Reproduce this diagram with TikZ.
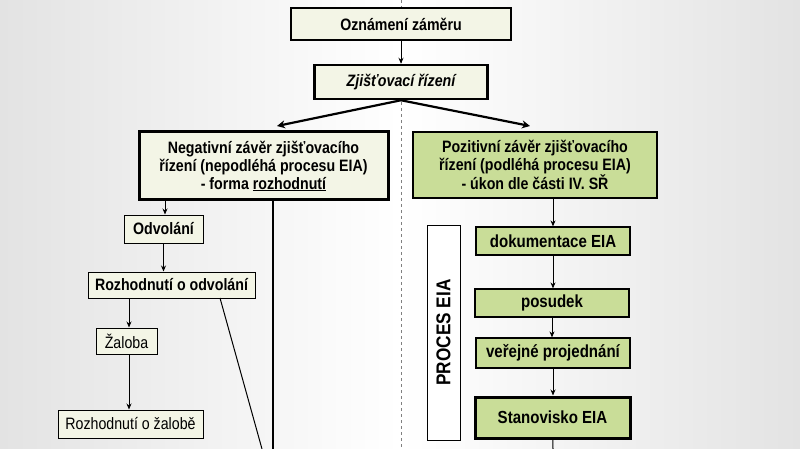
\documentclass[tikz,border=0pt]{standalone}
\usepackage{fontspec}
\setmainfont{Liberation Sans}[FakeStretch=0.86]
\usetikzlibrary{arrows.meta}
\definecolor{cream}{HTML}{F3F5E6}
\definecolor{eiagreen}{HTML}{C9DD98}
\tikzset{
  box/.style={draw=black,fill=cream,line width=#1,align=center,inner sep=0pt,font=\bfseries\fontsize{16.5}{18}\selectfont},
  box/.default=1pt,
  gbox/.style={box=#1,fill=eiagreen},
  gbox/.default=1.2pt,
  arr/.style={-{Stealth[length=6pt,width=5pt]},line width=0.9pt},
  tarr/.style={-{Stealth[length=8pt,width=8pt]},line width=2.2pt},
}
\begin{document}
\begin{tikzpicture}[x=1pt,y=-1pt]
\shade[left color=gray!22,right color=gray!22,middle color=white] (0,0) rectangle (800,449);
\useasboundingbox (0,0) rectangle (800,449);
\draw[gray,dashed,line width=0.4pt] (401,0) -- (401,449);
\node[box=2.5pt,minimum width=220pt,minimum height=32pt] (ozn) at (401,24) {Oznámení záměru};
\node[box=2.5pt,minimum width=173pt,minimum height=34pt] (zji) at (401,82) {\itshape Zjišťovací řízení};
\node[box=3pt,minimum width=249pt,minimum height=68pt] (neg) at (263.5,166) {Negativní závěr zjišťovacího\\řízení (nepodléhá procesu EIA)\\- forma \underline{rozhodnutí}};
\node[gbox=1.2pt,minimum width=244pt,minimum height=66pt] (poz) at (535,165) {Pozitivní závěr zjišťovacího\\řízení (podléhá procesu EIA)\\- úkon dle části IV. SŘ};
\node[box,minimum width=79pt,minimum height=28pt] (odv) at (163.5,229) {Odvolání};
\node[box,minimum width=167pt,minimum height=26pt] (rodv) at (171.5,285) {Rozhodnutí o odvolání};
\node[box,minimum width=61pt,minimum height=26pt,font=\fontsize{16.5}{18}\selectfont] (zal) at (126.5,341) {Žaloba};
\node[box,minimum width=145pt,minimum height=28pt,font=\fontsize{16.5}{18}\selectfont] (rzal) at (130.5,424) {Rozhodnutí o žalobě};
\node[gbox,minimum width=154pt,minimum height=28pt,font=\bfseries\fontsize{17.5}{19}\selectfont] (dok) at (553,241) {dokumentace EIA};
\node[gbox,minimum width=154pt,minimum height=28pt,font=\bfseries\fontsize{17.5}{19}\selectfont] (pos) at (552,303) {posudek};
\node[gbox,minimum width=154pt,minimum height=30pt,font=\bfseries\fontsize{17.5}{19}\selectfont] (ver) at (553,353) {veřejné projednání};
\node[gbox=3pt,minimum width=155pt,minimum height=41pt,font=\bfseries\fontsize{17.5}{19}\selectfont] (sta) at (552.5,417.5) {Stanovisko EIA};
\node[draw,fill=white,line width=1pt,minimum width=33pt,minimum height=215pt,inner sep=0pt] (proc) at (443.5,332.5) {};
\node[rotate=90,font=\bfseries\fontsize{20}{22}\selectfont] at (proc) {PROCES EIA};
\coordinate (negend) at (273,449);
\coordinate (rodvend) at (262,449);
\coordinate (staend) at (553,449);
\draw[arr] (ozn) -- (zji);
\draw[tarr] (zji.south) -- (277,126);
\draw[tarr] (zji.south) -- (530,126);
\draw[arr] (165,200) -- (odv.north -| 165,0);
\draw[arr] (odv) -- (odv |- rodv.north);
\draw[arr] (129,298) -- (zal.north -| 129,0);
\draw[arr] (129,354) -- (rzal.north -| 129,0);
\draw[line width=2.2pt] (273,200) -- (negend);
\draw[line width=1pt] (220,298) -- (rodvend);
\draw[arr] (553,198) -- (dok.north -| 553,0);
\draw[arr] (dok) -- (dok |- pos.north);
\draw[arr] (pos) -- (pos |- ver.north);
\draw[arr] (ver) -- (ver |- sta.north);
\draw[line width=1pt] (sta) -- (staend);
\end{tikzpicture}
\end{document}
